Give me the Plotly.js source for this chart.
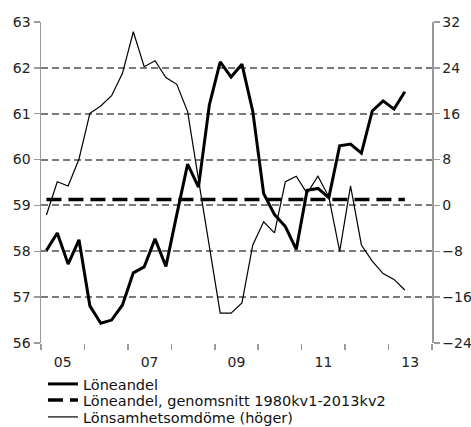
<!DOCTYPE html>
<html>
<head>
<meta charset="utf-8">
<script src="https://cdn.plot.ly/plotly-3.0.1.min.js"></script>
<style>html,body{margin:0;padding:0;background:#fff;}#chart{width:471px;height:427px;}</style>
</head>
<body>
<div id="chart"></div>
<script>
// Quarters 2005kv1 .. 2013kv2
var startYear = 2005;
var quarterCount = 34;

// Löneandel (left axis, percent)
var loneandel = [58.02, 58.40, 57.72, 58.25, 56.81, 56.43, 56.50, 56.83,
                 57.53, 57.66, 58.27, 57.67, 58.80, 59.90, 59.40, 61.19,
                 62.13, 61.80, 62.08, 61.05, 59.26, 58.80, 58.54, 58.04,
                 59.33, 59.37, 59.17, 60.30, 60.34, 60.14, 61.06, 61.28,
                 61.10, 61.48];

// Löneandel, genomsnitt 1980kv1-2013kv2
var loneandelAvg = 59.13;

// Lönsamhetsomdöme (right axis, net figures)
var lonsamhet = [-1.67, 4.14, 3.40, 8.10, 16.07, 17.35, 19.15, 23.04,
                 30.30, 24.20, 25.25, 22.30, 21.13, 16.36, 4.50, -7.30,
                 -18.80, -18.80, -17.00, -6.90, -2.84, -4.80, 4.14, 5.10,
                 2.10, 5.10, 1.50, -8.00, 3.40, -6.90, -9.70, -11.90,
                 -12.90, -14.75];

var yearTickVals = [2005.5, 2007.5, 2009.5, 2011.5, 2013.5];
var yearTickText = ['05', '07', '09', '11', '13'];
var yearBoundaries = [2005, 2006, 2007, 2008, 2009, 2010, 2011, 2012, 2013, 2014];

// x position of each quarter: centre of the quarter
var xq = [];
for (var i = 0; i < quarterCount; i++) {
  var y = startYear + Math.floor(i / 4);
  var q = i % 4;
  xq.push(y + (q + 0.5) / 4);
}
var avgSeries = xq.map(function () { return loneandelAvg; });

var font = 'DejaVu Sans, Verdana, sans-serif';
var gridCol = '#7a7a7a';
var axisCol = '#9a9a9a';
var legFont = {family: font, size: 14.5, color: '#111'};

var traces = [
  {x: xq, y: loneandel, type: 'scatter', mode: 'lines', name: 'Löneandel',
   legend: 'legend', line: {color: '#000', width: 3}},
  {x: xq, y: avgSeries, type: 'scatter', mode: 'lines', name: 'Löneandel, genomsnitt 1980kv1-2013kv2',
   legend: 'legend2', line: {color: '#000', width: 3.5, dash: '15px,7px'}},
  {x: xq, y: lonsamhet, type: 'scatter', mode: 'lines', name: 'Lönsamhetsomdöme (höger)',
   legend: 'legend3', yaxis: 'y2', line: {color: '#000', width: 1.2}}
];

function leg(yc) {
  return {x: 0.005, xanchor: 'left', y: yc, yanchor: 'middle', font: legFont,
          bgcolor: 'rgba(0,0,0,0)', itemwidth: 30};
}

var layout = {
  width: 471, height: 427,
  margin: {l: 41, r: 39, t: 22, b: 84, autoexpand: false},
  paper_bgcolor: '#fff', plot_bgcolor: '#fff',
  font: {family: font, size: 14, color: '#222'},
  showlegend: true,
  legend: leg(-0.1277),
  legend2: leg(-0.1776),
  legend3: leg(-0.2305),
  xaxis: {range: [2005, 2014], tickmode: 'array', tickvals: yearTickVals, ticktext: yearTickText,
          ticks: 'outside', ticklen: 6, tickcolor: 'rgba(0,0,0,0)',
          showgrid: false, zeroline: false, showline: false,
          tickfont: {family: font, size: 14, color: '#222'},
          minor: {tickmode: 'array', tickvals: yearBoundaries, ticks: 'outside', ticklen: 6,
                  tickwidth: 1.5, tickcolor: axisCol, showgrid: false}},
  yaxis: {range: [56, 63], dtick: 1, tick0: 56, showgrid: true, gridcolor: gridCol, gridwidth: 2,
          griddash: '7px,4px', zeroline: false, showline: true, linecolor: axisCol, linewidth: 1.5,
          ticks: 'outside', ticklen: 6, tickwidth: 1.5, tickcolor: axisCol,
          tickfont: {family: font, size: 14, color: '#222'}},
  yaxis2: {range: [-24, 32], dtick: 8, tick0: -24, overlaying: 'y', side: 'right',
           showgrid: false, zeroline: false, showline: true, linecolor: axisCol, linewidth: 1.5,
           ticks: 'outside', ticklen: 6, tickwidth: 1.5, tickcolor: axisCol,
           tickfont: {family: font, size: 14, color: '#222'}}
};

Plotly.newPlot('chart', traces, layout, {displayModeBar: false, staticPlot: true});
</script>
</body>
</html>
